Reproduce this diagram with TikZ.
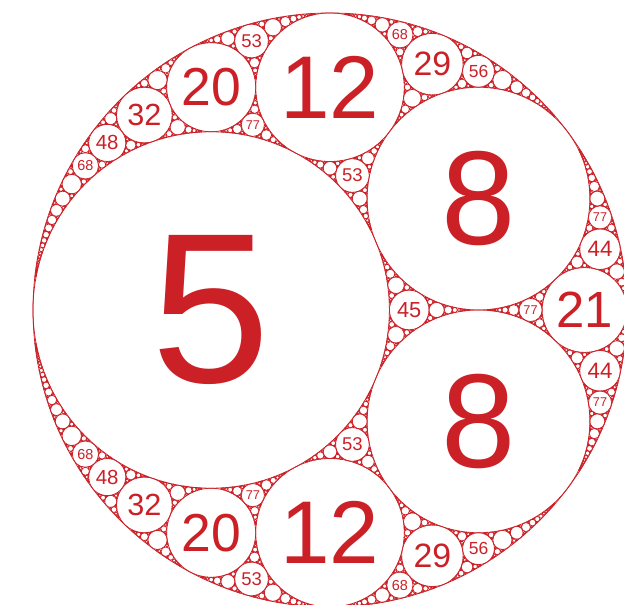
\documentclass[tikz,border=0pt]{standalone}
\usepackage{fontspec}
\setmainfont{Liberation Sans}
\definecolor{apred}{RGB}{204,32,39}
\tikzset{
  apc/.style={draw=apred, line width=0.75pt},
  aplab/.style={text=apred, inner sep=0pt, outer sep=0pt, anchor=center}
}
\def\apka#1#2#3{#1}
\def\apkb#1#2#3{#2}
\def\apkc#1#2#3{#3}
\def\apgobble#1#2#3{}
\def\apkmax{1500}
\def\apS{891}
\def\apX{330}
\def\apY{295}
\def\apdraw#1#2#3{%
  \edef\apcx{\fpeval{round(\apX+\apS*(#2)/(#1),3)}}%
  \edef\apcy{\fpeval{round(\apY+\apS*(#3)/(#1),3)}}%
  \edef\apr{\fpeval{round(abs(\apS/(#1)),3)}}%
  \draw[apc] (\apcx,\apcy) circle[radius=\apr];%
  \ifnum\fpeval{(#1<=77) && (#1>0)}=1
    \edef\apfs{\fpeval{round(((#1<25) ? 1.2 : 1.1)*\apS/(#1),2)}}%
    \node[aplab,font=\fontsize{\apfs}{\apfs}\selectfont] at (\apcx,\apcy) {#1};%
  \fi}
\def\apgap#1#2#3#4{%
  \edef\apnk{\fpeval{2*((\apka#1)+(\apka#2)+(\apka#3))-(\apka#4)}}%
  \ifnum\fpeval{\apnk<\apkmax}=1
    \edef\apnp{\fpeval{2*((\apkb#1)+(\apkb#2)+(\apkb#3))-(\apkb#4)}}%
    \edef\apnq{\fpeval{2*((\apkc#1)+(\apkc#2)+(\apkc#3))-(\apkc#4)}}%
    \apdraw{\apnk}{\apnp}{\apnq}%
    \edef\apnext{\noexpand\apsplit{{\apnk}{\apnp}{\apnq}}}%
  \else
    \let\apnext\apgobble
  \fi
  \apnext{#1}{#2}{#3}}
\def\apsplit#1#2#3#4{\apgap{#2}{#3}{#1}{#4}\apgap{#2}{#4}{#1}{#3}\apgap{#3}{#4}{#1}{#2}}
\begin{document}
\begin{tikzpicture}[x=1pt,y=1pt]
\useasboundingbox (0,0) rectangle (624,605);
\fill[white] (0,0) rectangle (624,605);
\clip (0,0) rectangle (624,605);
\apdraw{-3}{0}{0}
\apdraw{5}{-2/3}{0}
\apdraw{8}{4/3}{1}
\apdraw{8}{4/3}{-1}
\apgap{{-3}{0}{0}}{{5}{-2/3}{0}}{{8}{4/3}{1}}{{8}{4/3}{-1}}
\apgap{{-3}{0}{0}}{{5}{-2/3}{0}}{{8}{4/3}{-1}}{{8}{4/3}{1}}
\apgap{{-3}{0}{0}}{{8}{4/3}{1}}{{8}{4/3}{-1}}{{5}{-2/3}{0}}
\apgap{{5}{-2/3}{0}}{{8}{4/3}{1}}{{8}{4/3}{-1}}{{-3}{0}{0}}
\end{tikzpicture}
\end{document}
